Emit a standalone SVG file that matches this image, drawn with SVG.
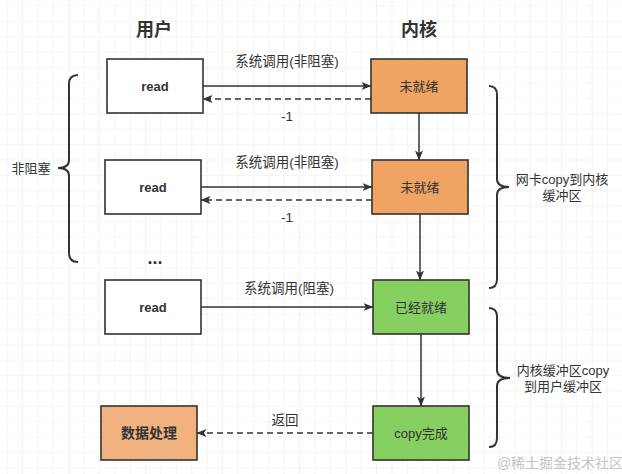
<svg xmlns="http://www.w3.org/2000/svg" width="622" height="474" viewBox="0 0 622 474">
<defs>
<pattern id="grid" x="6.5" y="5.5" width="15.4" height="15.4" patternUnits="userSpaceOnUse">
<path d="M0,0 H15.4 M0,0 V15.4" fill="none" stroke="#ebebeb" stroke-width="1.2"/>
</pattern>
<marker id="arr" viewBox="0 0 10 8" refX="9.5" refY="4" markerWidth="10" markerHeight="8" markerUnits="userSpaceOnUse" orient="auto">
<path d="M0,0 L10,4 L0,8 L2.5,4 z" fill="#333"/>
</marker>
<style>
text{font-family:"Liberation Sans","Noto Sans CJK SC",sans-serif;fill:#333;text-anchor:middle;dominant-baseline:central}
.box{stroke:#333;stroke-width:1.6}
.title{font-size:18px;font-weight:bold}
.lbl{font-size:13px}
.elbl{font-size:13.5px}
.b{font-weight:bold}
.line{fill:none;stroke:#333;stroke-width:1.5}
.dash{stroke-dasharray:6 4}
.brace{fill:none;stroke:#333;stroke-width:2}
</style>
</defs>
<rect width="622" height="474" fill="#ffffff"/>
<rect width="622" height="474" fill="url(#grid)"/>

<text class="title" x="154" y="30">用户</text>
<text class="title" x="419" y="30">内核</text>

<g id="read1"><rect class="box" x="107" y="59" width="96" height="54" fill="#ffffff"/><text class="lbl b" x="155" y="86">read</text></g>
<g id="read2"><rect class="box" x="105" y="160" width="96" height="54" fill="#ffffff"/><text class="lbl b" x="153" y="187">read</text></g>
<g id="read3"><rect class="box" x="105" y="280" width="96" height="54" fill="#ffffff"/><text class="lbl b" x="153" y="307">read</text></g>
<g id="process"><rect class="box" x="101" y="406" width="96" height="54" fill="#f2b27f"/><text class="lbl b" x="149" y="433" style="font-size:14px">数据处理</text></g>

<g id="k1"><rect class="box" x="371" y="59" width="96" height="54" fill="#efa464"/><text class="lbl" x="419" y="86">未就绪</text></g>
<g id="k2"><rect class="box" x="372" y="160" width="96" height="54" fill="#efa464"/><text class="lbl" x="420" y="187">未就绪</text></g>
<g id="k3"><rect class="box" x="373" y="280" width="96" height="54" fill="#88cf62"/><text class="lbl" x="421" y="307">已经就绪</text></g>
<g id="k4"><rect class="box" x="373" y="406" width="96" height="54" fill="#88cf62"/><text class="lbl" x="421" y="433">copy完成</text></g>

<g id="connectors">
<path class="line" d="M203,86 H371" marker-end="url(#arr)"/>
<path class="line dash" d="M371,99 H203" marker-end="url(#arr)"/>
<path class="line" d="M201,187 H372" marker-end="url(#arr)"/>
<path class="line dash" d="M372,200 H201" marker-end="url(#arr)"/>
<path class="line" d="M201,307 H373" marker-end="url(#arr)"/>
<path class="line dash" d="M373,433 H197" marker-end="url(#arr)"/>
<path class="line" d="M419,113 V160" marker-end="url(#arr)"/>
<path class="line" d="M420,214 V280" marker-end="url(#arr)"/>
<path class="line" d="M421,334 V406" marker-end="url(#arr)"/>
<text class="elbl" x="287" y="61">系统调用(非阻塞)</text>
<text class="elbl" x="287" y="116">-1</text>
<text class="elbl" x="287" y="162">系统调用(非阻塞)</text>
<text class="elbl" x="287" y="217">-1</text>
<text class="elbl" x="289" y="288">系统调用(阻塞)</text>
<text class="elbl" x="285" y="420">返回</text>
</g>

<g id="brace-left">
<path class="brace" d="M78,75 Q69,75 69,84 V160 Q69,168 58,168 Q69,168 69,176 V253 Q69,262 78,262"/>
<text class="lbl" x="31" y="168">非阻塞</text>
</g>
<g id="dots"><text x="155" y="258" class="b" style="font-size:18px">...</text></g>

<g id="brace-right1">
<path class="brace" d="M489,86 Q497,86 497,95 V179 Q497,187 509,187 Q497,187 497,195 V279 Q497,288 489,288"/>
<text class="lbl" x="562" y="179">网卡copy到内核</text>
<text class="lbl" x="562" y="195">缓冲区</text>
</g>
<g id="brace-right2">
<path class="brace" d="M489,308 Q497,308 497,317 V370 Q497,378 510,378 Q497,378 497,386 V438 Q497,447 489,447"/>
<text class="lbl" x="563" y="370">内核缓冲区copy</text>
<text class="lbl" x="563" y="386">到用户缓冲区</text>
</g>

<text x="560" y="463" style="font-size:14px;fill:#c4c4c4">@稀土掘金技术社区</text>
</svg>
